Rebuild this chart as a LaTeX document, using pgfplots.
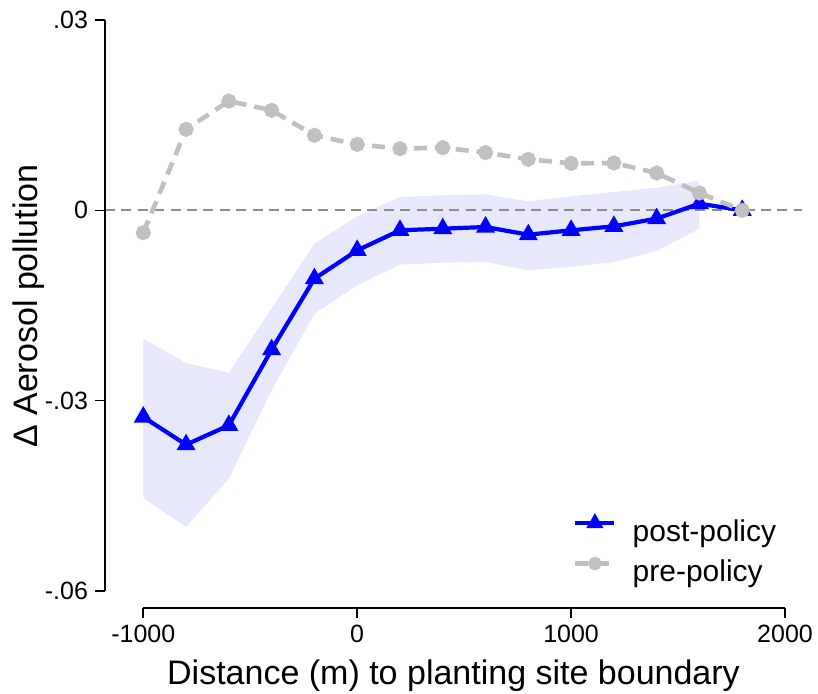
\documentclass[border=0pt]{standalone}
\usepackage{fontspec}
\setmainfont{Liberation Sans}
\usepackage{pgfplots}
\usepackage{pgfplotstable}
\pgfplotsset{compat=1.18}

\definecolor{postblue}{RGB}{0,0,255}
\definecolor{pregray}{RGB}{192,192,192}
\definecolor{bandfill}{RGB}{232,232,252}
\definecolor{zerogray}{RGB}{140,140,140}

% distance bin, post-policy and pre-policy estimates
\pgfplotstableread{
x      post      pre
-1000  -0.03258  -0.00352
-800   -0.03694   0.01277
-600   -0.03389   0.01723
-400   -0.02196   0.01576
-200   -0.01077   0.01182
0      -0.00631   0.01040
200    -0.00315   0.00972
400    -0.00289   0.00988
600    -0.00263   0.00910
800    -0.00384   0.00804
1000   -0.00315   0.00741
1200   -0.00252   0.00746
1400   -0.00131   0.00588
1600    0.00105   0.00273
1800    0.00000   0.00000
}\estimates

% confidence band of the post-policy estimates:
% upper bound left to right, then lower bound right to left
\pgfplotstableread{
x      y
-1000  -0.02023
-800   -0.02407
-600   -0.02559
-400   -0.01545
-200   -0.00525
0      -0.00095
200     0.00210
400     0.00236
600     0.00252
800     0.00142
1000    0.00220
1200    0.00289
1400    0.00358
1600    0.00473
1600   -0.00289
1400   -0.00641
1200   -0.00815
1000   -0.00893
800    -0.00946
600    -0.00815
400    -0.00825
200    -0.00856
0      -0.01182
-200   -0.01629
-400   -0.02838
-600   -0.04230
-800   -0.04993
-1000  -0.04535
}\band

\begin{document}
\begin{tikzpicture}
\useasboundingbox (-52.5pt,-43pt) rectangle (356.5pt,304pt);
\begin{axis}[
  scale only axis,
  width=348.5pt, height=294pt,
  xmin=-1179, xmax=2079.5,
  ymin=-0.06268, ymax=0.03,
  clip=false,
  scaled ticks=false,
  axis x line*=bottom, axis y line*=left,
  axis line style={draw=none},
  tick align=outside,
  major tick length=5pt,
  tick style={black, line width=0.8pt},
  xtick={-1000,0,1000,2000},
  xticklabels={-1000,0,1000,2000},
  ytick={-0.06,-0.03,0,0.03},
  yticklabels={-.06,-.03,0,.03},
  ticklabel style={font=\fontsize{12.5}{15}\selectfont},
  xlabel={Distance (m) to planting site boundary},
  ylabel={Δ Aerosol pollution},
  label style={font=\fontsize{17}{20}\selectfont},
  xlabel style={at={(axis description cs:0.5,0)}, yshift=-38.5pt, anchor=base},
  ylabel style={at={([xshift=-33.5pt,yshift=4pt]axis description cs:0,0.5)}, anchor=base},
  legend style={
    at={(axis description cs:0.671,0.1548)}, anchor=north west,
    draw=none, fill=none, inner sep=0pt, row sep=5pt,
    font=\fontsize{15}{18}\selectfont,
    nodes={inner sep=0pt, text height=11pt, text depth=4pt},
    /tikz/every odd column/.append style={column sep=8pt},
  },
  legend cell align=left,
  legend image code/.code={
    \draw[mark repeat=2, mark phase=2, every mark/.append style={scale=0.85}]
      plot coordinates {(0pt,5.5pt) (9.75pt,5.5pt) (19.5pt,5.5pt)};
  },
]
\addplot[fill=bandfill, draw=none, forget plot] table[x=x, y=y] {\band} -- cycle;

\draw[zerogray, line width=1pt, dash pattern=on 5pt off 3.2pt]
  (axis cs:-1179,0) -- (axis cs:2079.5,0);

\addplot[postblue, line width=2.1pt, mark=triangle*, mark size=3.4pt,
  mark options={solid}] table[x=x, y=post] {\estimates};
\addlegendentry{post-policy}

\addplot[pregray, line width=2.3pt, dash pattern=on 6.5pt off 4pt,
  mark=*, mark size=2.6pt, mark options={solid}] table[x=x, y=pre] {\estimates};
\addlegendentry{pre-policy}

% axis lines spanning the labelled range only
\draw[line width=0.8pt] (axis cs:-1179,0.03) -- (axis cs:-1179,-0.06);
\draw[line width=0.8pt] (axis cs:-1000,-0.06268) -- (axis cs:2000,-0.06268);
\end{axis}
\end{tikzpicture}
\end{document}
